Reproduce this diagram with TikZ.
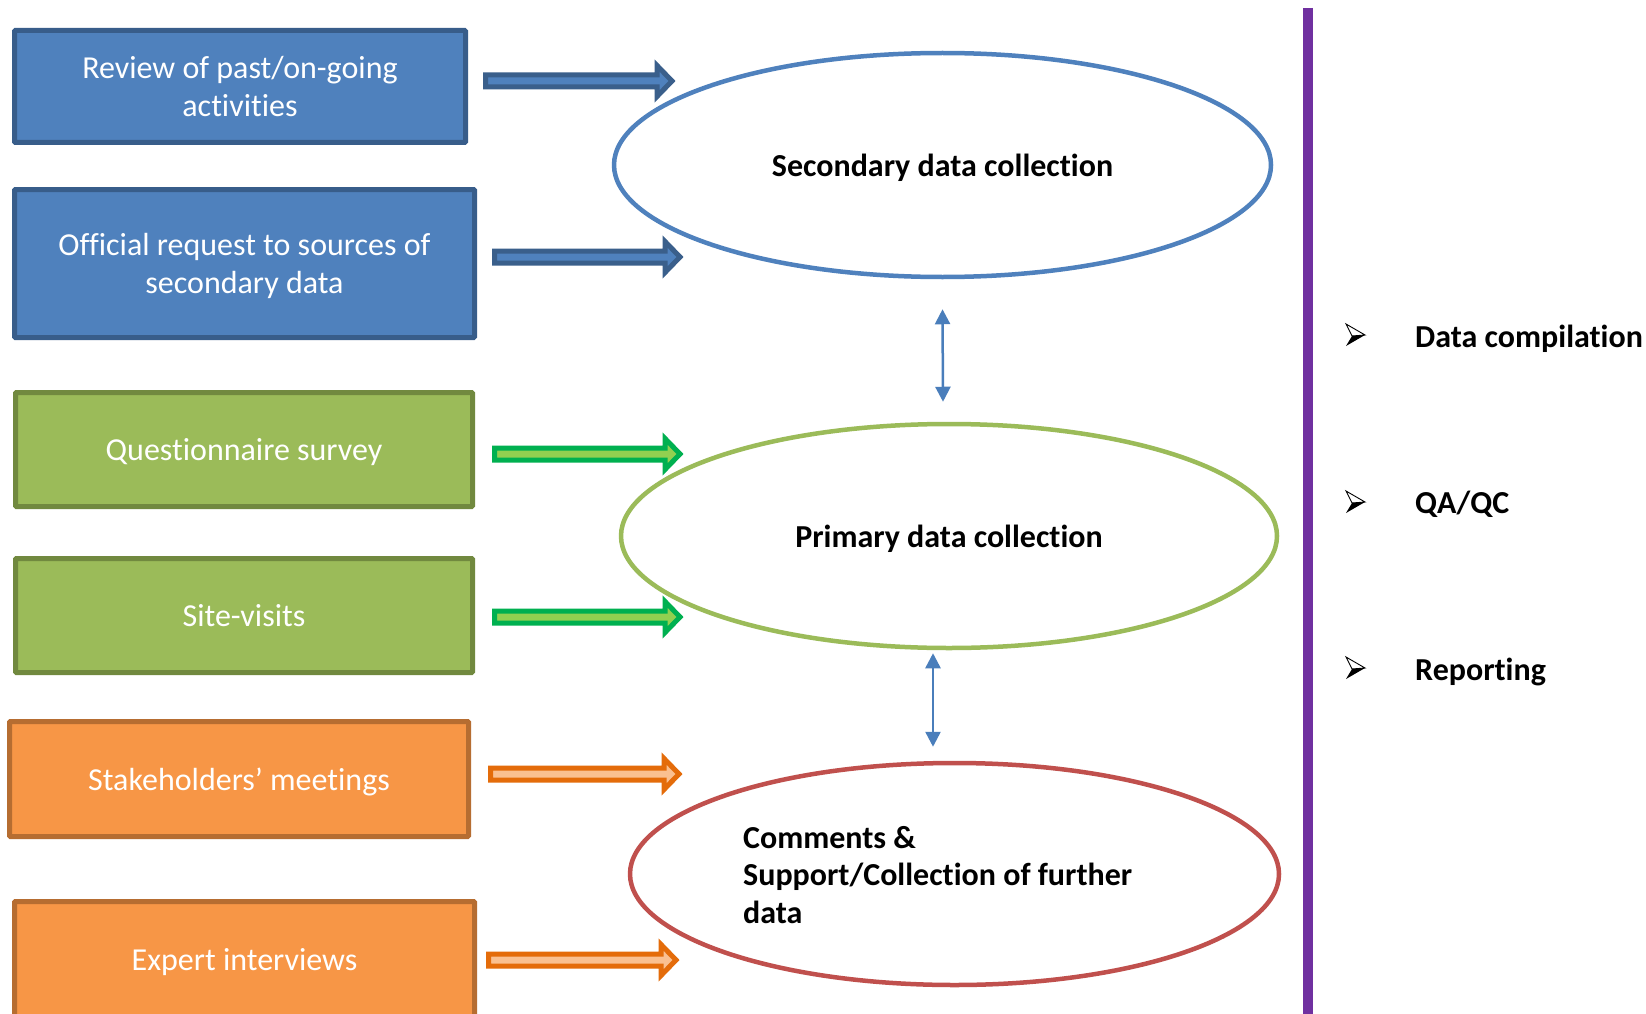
\documentclass[tikz,border=0pt]{standalone}
\usepackage{fontspec}
\setmainfont{Carlito}[Ligatures=NoCommon, Contextuals=NoAlternate]
\usetikzlibrary{shapes.geometric,arrows.meta}
\definecolor{bfill}{HTML}{4F81BD}
\definecolor{bline}{HTML}{385D8A}
\definecolor{gfill}{HTML}{9BBB59}
\definecolor{gline}{HTML}{71893F}
\definecolor{ofill}{HTML}{F79646}
\definecolor{oline}{HTML}{B66D31}
\definecolor{barline}{HTML}{3A5F8B}
\definecolor{garline}{HTML}{00B050}
\definecolor{garfill}{HTML}{92D050}
\definecolor{oarline}{HTML}{E46C0A}
\definecolor{oarfill}{HTML}{FAC090}
\definecolor{redell}{HTML}{C0504D}
\definecolor{purp}{HTML}{7030A0}
\definecolor{dblcol}{HTML}{4A7EBB}
\newcommand\blockarr[4]{%
  \draw[#1] (#2+2.5,#4-6) -- (#3-18,#4-6) -- (#3-18,#4-15.5) -- (#3-3,#4)
    -- (#3-18,#4+15.5) -- (#3-18,#4+6) -- (#2+2.5,#4+6) -- cycle;}
\newcommand\bulletarrow[2]{%
  \fill[black] (#1+6,#2+1) -- (#1+19,#2) -- (#1,#2+11) -- cycle;
  \draw[line width=0.9pt, line join=miter] (#1,#2-11) -- (#1+19,#2) -- (#1+6,#2+1) -- cycle;}
\tikzset{
  box/.style={rectangle, line width=5pt, inner sep=0pt, align=center, text=white,
    rounded corners=1pt, text depth=0pt, font=\fontsize{32}{38.5}\selectfont},
  ell/.style={ellipse, line width=4.5pt, inner sep=0pt, fill=white, text depth=0pt,
    font=\bfseries\fontsize{32}{38.5}\selectfont},
  barr/.style={line width=5pt, draw=barline, fill=bfill, line join=miter},
  garr/.style={line width=5pt, draw=garline, fill=garfill, line join=miter},
  oarr/.style={line width=5pt, draw=oarline, fill=oarfill, line join=miter},
  dbl/.style={line width=2.5pt, draw=dblcol, {Triangle[width=15pt,length=15pt]}-{Triangle[width=15pt,length=15pt]}},
  rtext/.style={font=\bfseries\fontsize{32}{38.5}\selectfont, inner sep=0pt}
}
\begin{document}
\begin{tikzpicture}[x=1pt,y=-1pt]
\useasboundingbox (0,0) rectangle (1646,1014);
\clip (0,0) rectangle (1646,1014);
\fill[white] (0,0) rectangle (1646,1014);
% left boxes
\node[box, fill=bfill, draw=bline, minimum width=451pt, minimum height=112pt] (b1) at (240,86.5) {Review of past/on-going\\activities};
\node[box, fill=bfill, draw=bline, minimum width=460pt, minimum height=148pt] (b2) at (244.5,263.5) {Official request to sources of\\secondary data};
\node[box, fill=gfill, draw=gline, minimum width=457pt, minimum height=114pt] (b3) at (244,449.5) {Questionnaire survey};
\node[box, fill=gfill, draw=gline, minimum width=457pt, minimum height=114pt] (b4) at (244,615.5) {Site-visits};
\node[box, fill=ofill, draw=oline, minimum width=459pt, minimum height=115pt] (b5) at (239,779) {Stakeholders’ meetings};
\node[box, fill=ofill, draw=oline, minimum width=460pt, minimum height=115pt] (b6) at (244.5,959) {Expert interviews};
% block arrows
\blockarr{barr}{483}{675}{81}
\blockarr{barr}{492}{683}{257}
\blockarr{garr}{492}{683}{454}
\blockarr{garr}{492}{683}{617}
\blockarr{oarr}{488}{682}{774}
\blockarr{oarr}{486}{679}{960}
% ellipses
\node[ell, draw=bfill, minimum width=657pt, minimum height=224pt] (sec) at (942.5,165) {Secondary data collection};
\node[ell, draw=gfill, minimum width=656pt, minimum height=224pt] (prim) at (949,536) {Primary data collection};
\node[ell, draw=redell, minimum width=649pt, minimum height=222pt] (com) at (954.5,874) {};
\node[rtext, anchor=west, align=left, font=\bfseries\fontsize{32}{37.5}\selectfont] (comtext) at (743,875) {Comments \&\\Support/Collection of further\\data};
% double arrows
\draw[dbl] ([yshift=-30pt]sec.south) -- ([xshift=-6pt,yshift=20pt]prim.north);
\draw[dbl] ([xshift=-16pt,yshift=-3pt]prim.south) -- ([xshift=-21.5pt,yshift=14pt]com.north);
% purple bar
\draw[line width=10pt, purp] (1308,8) -- (1308,1020);
% right list
\bulletarrow{1346}{335}
\bulletarrow{1346}{502}
\bulletarrow{1346}{668}
\node[rtext, anchor=base west] (r1) at (1415,347) {Data compilation};
\node[rtext, anchor=base west] (r2) at (1415,513) {QA/QC};
\node[rtext, anchor=base west] (r3) at (1415,680) {Reporting};
\end{tikzpicture}
\end{document}
